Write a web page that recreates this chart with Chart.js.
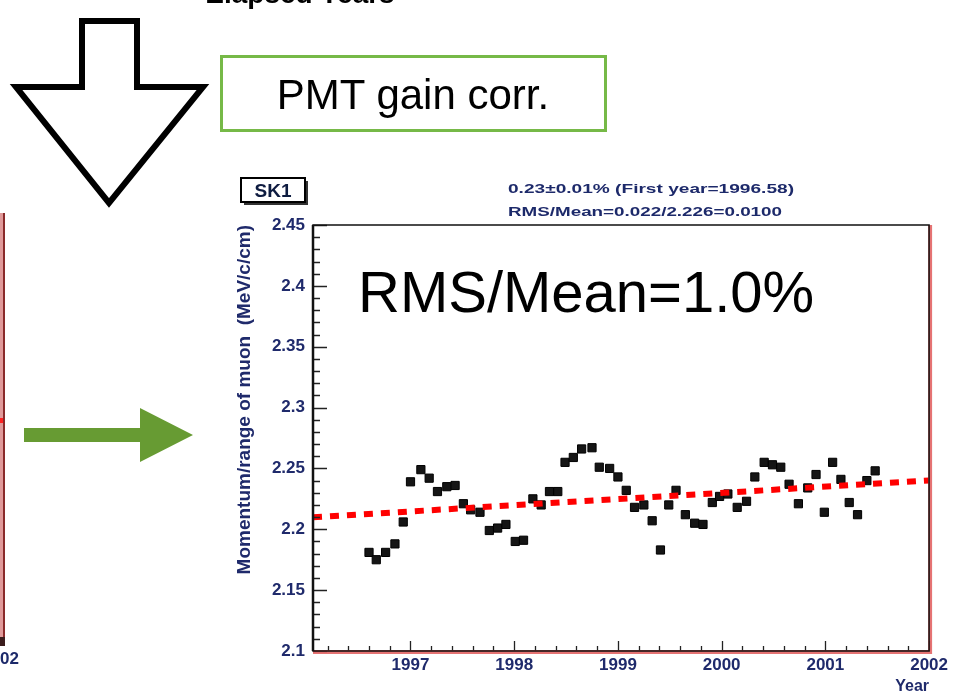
<!DOCTYPE html>
<html>
<head>
<meta charset="utf-8">
<script src="https://cdn.jsdelivr.net/npm/chart.js@4.4.1/dist/chart.umd.min.js"></script>
<style>
  html, body { margin: 0; padding: 0; background: #fff; }
  #wrap { position: relative; width: 954px; height: 693px; overflow: hidden; }
  #plot { position: absolute; left: 0; top: 0; filter: blur(0.5px); }
  #overlay { position: absolute; left: 0; top: 0; pointer-events: none; }
  #overlay text { font-family: "Liberation Sans", Arial, sans-serif; }
</style>
</head>
<body>
<div id="wrap">
  <canvas id="plot" width="954" height="693"></canvas>
  <svg id="overlay" width="954" height="693" xmlns="http://www.w3.org/2000/svg">
    <defs>
      <filter id="soft" x="-5%" y="-20%" width="110%" height="140%">
        <feGaussianBlur stdDeviation="0.5"/>
      </filter>
    </defs>
    <!-- title cut off by the top edge -->
    <text x="300" y="3" text-anchor="middle" font-size="28" font-weight="bold" fill="#000">Elapsed Years</text>
    <!-- hollow down arrow -->
    <polygon points="82,21 137,21 137,87 203,87 109,203 16,87 82,87" fill="#fff" stroke="#000" stroke-width="6" stroke-linejoin="miter"/>
    <!-- correction label -->
    <rect x="221.5" y="56.5" width="384" height="74" fill="#fff" stroke="#76b947" stroke-width="3"/>
    <text x="413" y="109" text-anchor="middle" font-size="42" fill="#000">PMT gain corr.</text>
    <!-- green arrow pointing to the corrected plot -->
    <polygon points="24,428 140,428 140,408 193,435 140,462 140,442 24,442" fill="#679b33"/>
    <!-- edge of the neighbouring plot -->
    <g filter="url(#soft)">
      <rect x="0" y="213" width="5" height="432" fill="#e09a9a"/>
      <rect x="3" y="213" width="2" height="432" fill="#8a2a2a"/>
      <rect x="0" y="637" width="5" height="9" fill="#3a1a1a"/>
      <rect x="0" y="418" width="3" height="5" fill="#ff2020"/>
      <text x="19" y="664" text-anchor="end" font-size="17" font-weight="bold" fill="#1f2a6b">2002</text>
    </g>
    <g filter="url(#soft)">
      <!-- SK1 tag -->
      <rect x="244" y="181" width="64" height="24" fill="#333"/>
      <rect x="241" y="178" width="64" height="24" fill="#fff" stroke="#000" stroke-width="2"/>
      <text x="273" y="197" text-anchor="middle" font-size="19" font-weight="bold" fill="#111a40">SK1</text>
      <!-- fit summary -->
      <text x="508" y="193" font-size="13" font-weight="bold" fill="#1f2a6b" textLength="286" lengthAdjust="spacingAndGlyphs">0.23±0.01% (First year=1996.58)</text>
      <text x="508" y="216" font-size="13" font-weight="bold" fill="#1f2a6b" textLength="274" lengthAdjust="spacingAndGlyphs">RMS/Mean=0.022/2.226=0.0100</text>
    </g>
    <!-- spread summary -->
    <text x="358" y="312" font-size="58" fill="#000">RMS/Mean=1.0%</text>
  </svg>
</div>
<script>
// Monthly muon momentum/range, SK1 period, after PMT gain correction
const monthYears = [
  1996.60, 1996.67, 1996.76, 1996.85, 1996.93, 1997.00, 1997.10, 1997.18, 1997.26, 1997.35,
  1997.43, 1997.51, 1997.58, 1997.67, 1997.76, 1997.84, 1997.92, 1998.01, 1998.09, 1998.18,
  1998.26, 1998.34, 1998.42, 1998.49, 1998.57, 1998.65, 1998.75, 1998.82, 1998.92, 1999.00,
  1999.08, 1999.16, 1999.25, 1999.33, 1999.41, 1999.49, 1999.56, 1999.65, 1999.74, 1999.82,
  1999.91, 1999.98, 2000.06, 2000.15, 2000.24, 2000.32, 2000.41, 2000.49, 2000.57, 2000.65,
  2000.74, 2000.83, 2000.91, 2000.99, 2001.07, 2001.15, 2001.23, 2001.31, 2001.40, 2001.48
];
const momRange = [
  2.181, 2.175, 2.181, 2.188, 2.206, 2.239, 2.249, 2.242, 2.231, 2.235,
  2.236, 2.221, 2.216, 2.214, 2.199, 2.201, 2.204, 2.190, 2.191, 2.225,
  2.220, 2.231, 2.231, 2.255, 2.259, 2.266, 2.267, 2.251, 2.250, 2.243,
  2.232, 2.218, 2.220, 2.207, 2.183, 2.220, 2.232, 2.212, 2.205, 2.204,
  2.222, 2.227, 2.229, 2.218, 2.223, 2.243, 2.255, 2.253, 2.251, 2.237,
  2.221, 2.234, 2.245, 2.214, 2.255, 2.241, 2.222, 2.212, 2.240, 2.248
];
// Linear fit (0.23 %/year), evaluated at the ends of the time axis
const fitYears = [1996.06, 2002.0];
const fitValues = [2.2099, 2.2401];

// Axis ticks
const xTickValues = [1997, 1998, 1999, 2000, 2001, 2002];
const xTickLabels = ['1997', '1998', '1999', '2000', '2001', '2002'];
const yTickValues = [2.10, 2.15, 2.20, 2.25, 2.30, 2.35, 2.40, 2.45];
const yTickLabels = ['2.1', '2.15', '2.2', '2.25', '2.3', '2.35', '2.4', '2.45'];

const X_MIN = 1996.06, X_MAX = 2002.0;
const Y_MIN = 2.10, Y_MAX = 2.45;
const AXIS_FONT = { family: '"Liberation Sans", Arial, sans-serif', size: 17, weight: 'bold', lineHeight: 1 };
const AXIS_COLOR = '#1f2a6b';

// Inward major/minor tick marks and the plot frame
const frameAndTicks = {
  id: 'frameAndTicks',
  afterDatasetsDraw(chart) {
    const { ctx, chartArea: a, scales: { x, y } } = chart;
    ctx.save();
    ctx.strokeStyle = '#222';
    ctx.lineWidth = 1.3;
    ctx.beginPath();
    // y: minor every 0.01, major every 0.05
    for (let i = 0; i <= 35; i++) {
      const py = Math.round(y.getPixelForValue(Y_MIN + i * 0.01)) + 0.5;
      const len = (i % 5 === 0) ? 14 : 7;
      ctx.moveTo(a.left, py);
      ctx.lineTo(a.left + len, py);
    }
    // x: minor every 0.2 year, major every year
    for (let i = 0; i <= 30; i++) {
      const v = 1996 + i * 0.2;
      if (v < X_MIN) continue;
      const px = Math.round(x.getPixelForValue(v)) + 0.5;
      const len = (i % 5 === 0) ? 10 : 5;
      ctx.moveTo(px, a.bottom);
      ctx.lineTo(px, a.bottom - len);
    }
    ctx.stroke();

    // reddish halo on the lower and right frame edges
    ctx.strokeStyle = 'rgba(225,90,90,0.85)';
    ctx.lineWidth = 4;
    ctx.beginPath();
    ctx.moveTo(a.left, a.bottom + 1);
    ctx.lineTo(a.right + 1, a.bottom + 1);
    ctx.lineTo(a.right + 1, a.top);
    ctx.stroke();

    ctx.strokeStyle = '#111';
    ctx.lineWidth = 1.5;
    ctx.strokeRect(a.left, a.top, a.right - a.left, a.bottom - a.top);
    ctx.lineWidth = 2.5;
    ctx.beginPath();
    ctx.moveTo(a.left, a.top);
    ctx.lineTo(a.left, a.bottom);
    ctx.stroke();
    ctx.restore();
  }
};

new Chart(document.getElementById('plot'), {
  type: 'scatter',
  data: {
    datasets: [
      {
        type: 'line',
        label: 'fit',
        data: fitYears.map((t, i) => ({ x: t, y: fitValues[i] })),
        borderColor: '#ff0000',
        borderWidth: 6,
        borderDash: [9, 8],
        pointRadius: 0,
        fill: false,
        tension: 0
      },
      {
        label: 'SK1',
        data: monthYears.map((t, i) => ({ x: t, y: momRange[i] })),
        pointStyle: 'rect',
        pointRadius: 5.8,
        backgroundColor: '#151515',
        borderColor: '#000',
        borderWidth: 1
      }
    ]
  },
  options: {
    responsive: false,
    animation: false,
    events: [],
    layout: { padding: { left: 230, top: 225, right: 14, bottom: 0 } },
    plugins: { legend: { display: false }, tooltip: { enabled: false } },
    scales: {
      x: {
        type: 'linear',
        min: X_MIN,
        max: X_MAX,
        afterBuildTicks: s => { s.ticks = xTickValues.map(v => ({ value: v })); },
        afterFit: s => { s.height = 42; },
        grid: { display: false, drawTicks: false },
        border: { display: false },
        ticks: {
          autoSkip: false,
          maxRotation: 0,
          padding: 6,
          color: AXIS_COLOR,
          font: AXIS_FONT,
          callback: v => xTickLabels[xTickValues.indexOf(v)]
        },
        title: {
          display: true,
          text: 'Year',
          align: 'end',
          color: AXIS_COLOR,
          font: { family: AXIS_FONT.family, size: 16, weight: 'bold', lineHeight: 1 },
          padding: { top: 0, bottom: -2 }
        }
      },
      y: {
        type: 'linear',
        min: Y_MIN,
        max: Y_MAX,
        afterBuildTicks: s => { s.ticks = yTickValues.map(v => ({ value: v })); },
        afterFit: s => { s.width = 83; },
        grid: { display: false, drawTicks: false },
        border: { display: false },
        ticks: {
          autoSkip: false,
          padding: 8,
          color: AXIS_COLOR,
          font: AXIS_FONT,
          callback: (v, i) => yTickLabels[i]
        },
        title: {
          display: true,
          text: 'Momentum/range of muon  (MeV/c/cm)',
          align: 'end',
          color: AXIS_COLOR,
          font: { family: AXIS_FONT.family, size: 19, weight: 'bold', lineHeight: 1 },
          padding: { top: 5, bottom: 0 }
        }
      }
    }
  },
  plugins: [frameAndTicks]
});
</script>
</body>
</html>
